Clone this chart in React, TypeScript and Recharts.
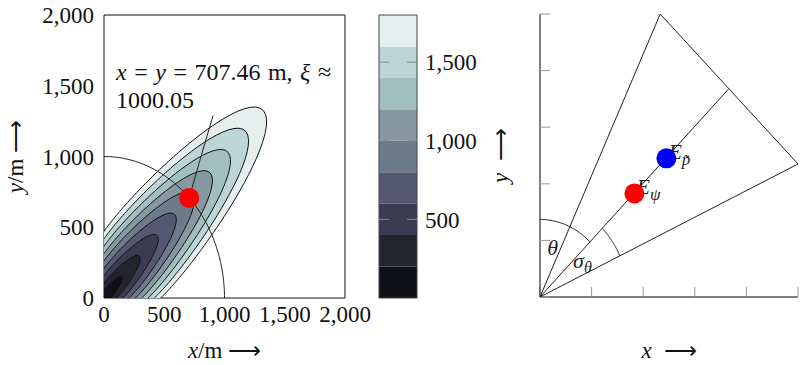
import React from 'react';
import { ScatterChart, Scatter, XAxis, YAxis, BarChart, Bar } from 'recharts';

const FONT = '"Liberation Serif", "Times New Roman", serif';

// left panel: contour levels of xi and the band colour below each level
const levels = [200, 400, 600, 800, 1000, 1200, 1400, 1600, 1800];
const bandColors = ['#101018', '#24242f', '#3b3b52', '#565773', '#6d7a8b', '#8898a2', '#a1bfbf', '#bcd5d5', '#e4efee'];
const axisTicks = [0, 500, 1000, 1500, 2000];
const barTicks = [500, 1000, 1500];
// contour shape: range along the bearing shrinks with the bearing offset
const bearing = 45;
const rangeScale = 1.04;
const bearingSpread = 24;
const circleRadius = 1000;
const marker = [{ x: 707.46, y: 707.46 }];
const ridge = [{ x: 707, y: 707 }, { x: 800, y: 985 }, { x: 905, y: 1290 }];
const note = [{ x: 100, y: 1540 }];

// right panel: wedge around the bearing estimate
const wedge = [{ x: 0, y: 0 }, { x: 2.33, y: 5 }, { x: 5, y: 2.35 }, { x: 0, y: 0 }];
const bisector = [{ x: 0, y: 0 }, { x: 3.65, y: 3.67 }];
const thetaArc = [1.37, 90, 45];
const sigmaArc = [1.71, 45, 25.2];
const estimates = [
  { x: 1.83, y: 1.83, color: '#ff0000', sub: 'ψ' },
  { x: 2.45, y: 2.45, color: '#0000ff', sub: 'p̃' },
];
const angleLabels = [
  { x: 0.14, y: 0.74, text: 'θ', sub: '' },
  { x: 0.64, y: 0.51, text: 'σ', sub: 'θ' },
];
const gridTicks = [0, 1, 2, 3, 4, 5];

const rad = (d: number) => (d * Math.PI) / 180;

const arcPoints = (r: number, from: number, to: number, n = 60) => {
  const pts = [];
  for (let i = 0; i <= n; i++) {
    const t = rad(from + ((to - from) * i) / n);
    pts.push({ x: r * Math.cos(t), y: r * Math.sin(t) });
  }
  return pts;
};

const contourPoints = (level: number) => {
  const pts = [];
  for (let deg = -135; deg <= 225; deg += 1) {
    const off = rad(deg - bearing);
    const r = (level * rangeScale) / Math.sqrt(1 + bearingSpread * off * off);
    pts.push({ x: r * Math.cos(rad(deg)), y: r * Math.sin(rad(deg)) });
  }
  return pts;
};

const contours = levels.map((L, i) => ({ level: L, color: bandColors[i], points: contourPoints(L) })).reverse();
const circle = arcPoints(circleRadius, 0, 90, 90);
const thetaPts = arcPoints(thetaArc[0], thetaArc[1], thetaArc[2], 40);
const sigmaPts = arcPoints(sigmaArc[0], sigmaArc[1], sigmaArc[2], 40);

const barRow: any = { name: 'xi' };
levels.forEach((L, i) => {
  barRow['b' + i] = L - (i > 0 ? levels[i - 1] : 0);
});
const barData = [barRow];

const blank = () => <g />;
const fmt = (v: number) => v.toLocaleString('en-US');
const tickStyle = { fill: '#111', fontSize: 23, fontFamily: FONT };
const ARROW = '⟶';

const NoteShape = (props: any) => (
  <text x={props.cx} y={props.cy} fontSize={24} fontFamily={FONT} fill="#111" wordSpacing={1.5}>
    <tspan fontStyle="italic">x</tspan> = <tspan fontStyle="italic">y</tspan> = 707.46 m, <tspan fontStyle="italic">ξ</tspan> ≈
    <tspan x={props.cx} dy={28}>1000.05</tspan>
  </text>
);

const MarkerShape = (props: any) => <circle cx={props.cx} cy={props.cy} r={10} fill="#ff0000" />;

const EstimateShape = (props: any) => (
  <g>
    <text x={props.cx + 2} y={props.cy + 1} fontSize={22} fontFamily={FONT} fill="#222" fontStyle="italic">
      E<tspan fontSize={17} dy={6}>{props.payload.sub}</tspan>
    </text>
    <circle cx={props.cx} cy={props.cy} r={10} fill={props.payload.color} />
  </g>
);

const AngleShape = (props: any) => (
  <text x={props.cx} y={props.cy} fontSize={22} fontFamily={FONT} fill="#222" fontStyle="italic">
    {props.payload.text}
    {props.payload.sub ? <tspan fontSize={16} dy={5}>{props.payload.sub}</tspan> : null}
  </text>
);

const LeftYLabel = (props: any) => {
  const vb = props.viewBox || {};
  const x = vb.x + 23;
  const y = vb.y + vb.height / 2;
  return (
    <text x={x} y={y} transform={`rotate(-90 ${x} ${y})`} textAnchor="middle" fontSize={23} fontFamily={FONT} fill="#111">
      <tspan fontStyle="italic">y</tspan>/m {ARROW}
    </text>
  );
};

const LeftXLabel = (props: any) => {
  const vb = props.viewBox || {};
  return (
    <text x={vb.x + vb.width / 2} y={vb.y + 60} textAnchor="middle" fontSize={23} fontFamily={FONT} fill="#111">
      <tspan fontStyle="italic">x</tspan>/m {ARROW}
    </text>
  );
};

const RightXLabel = (props: any) => {
  const vb = props.viewBox || {};
  return (
    <text x={vb.x + vb.width / 2} y={vb.y + 62} textAnchor="middle" fontSize={23} fontFamily={FONT} fill="#111">
      <tspan fontStyle="italic">x</tspan>
      <tspan dx={12}>{ARROW}</tspan>
    </text>
  );
};

const RightYLabel = (props: any) => {
  const vb = props.viewBox || {};
  const x = vb.x - 32;
  const y = vb.y + vb.height / 2;
  return (
    <text x={x} y={y} transform={`rotate(-90 ${x} ${y})`} textAnchor="middle" fontSize={23} fontFamily={FONT} fill="#111">
      <tspan fontStyle="italic">y</tspan>
      <tspan dx={12}>{ARROW}</tspan>
    </text>
  );
};

export default function App() {
  return (
    <div style={{ position: 'absolute', left: 0, top: 0, width: 800, height: 365, background: '#fff', fontFamily: FONT }}>
      <div style={{ position: 'absolute', left: 0, top: 0 }}>
        <ScatterChart width={380} height={365} margin={{ top: 14, right: 34, left: 0, bottom: 0 }}>
          {contours.map((c) => (
            <Scatter
              key={c.level}
              data={c.points}
              line={{ stroke: '#111', strokeWidth: 1, fill: c.color }}
              lineJointType="linear"
              shape={blank}
              isAnimationActive={false}
            />
          ))}
          <Scatter data={circle} line={{ stroke: '#222', strokeWidth: 1, fill: 'none' }} lineJointType="linear" shape={blank} isAnimationActive={false} />
          <Scatter data={ridge} line={{ stroke: '#222', strokeWidth: 1, fill: 'none' }} lineJointType="linear" shape={blank} isAnimationActive={false} />
          <Scatter data={marker} shape={MarkerShape} isAnimationActive={false} />
          <Scatter data={note} shape={NoteShape} isAnimationActive={false} />
          <XAxis
            type="number"
            dataKey="x"
            domain={[0, 2000]}
            ticks={axisTicks}
            interval={0}
            allowDataOverflow
            height={67}
            tickSize={0}
            tickMargin={8}
            tickFormatter={fmt}
            tick={tickStyle}
            axisLine={{ stroke: '#111' }}
            label={LeftXLabel}
          />
          <YAxis
            type="number"
            dataKey="y"
            domain={[0, 2000]}
            ticks={axisTicks}
            interval={0}
            allowDataOverflow
            width={104}
            tickSize={0}
            tickMargin={10}
            tickFormatter={fmt}
            tick={tickStyle}
            axisLine={{ stroke: '#111' }}
            label={LeftYLabel}
          />
          <XAxis xAxisId="top" orientation="top" type="number" domain={[0, 2000]} allowDataOverflow ticks={axisTicks} height={1} tick={false} tickLine={false} axisLine={{ stroke: '#111' }} />
          <YAxis yAxisId="right" orientation="right" type="number" domain={[0, 2000]} allowDataOverflow ticks={axisTicks} width={1} tick={false} tickLine={false} axisLine={{ stroke: '#111' }} />
        </ScatterChart>
      </div>

      <div style={{ position: 'absolute', left: 370, top: 0 }}>
        <BarChart width={110} height={365} data={barData} margin={{ top: 14, right: 0, left: 9, bottom: 0 }} barCategoryGap={0}>
          {levels.map((L, i) => (
            <Bar key={L} dataKey={'b' + i} stackId="a" fill={bandColors[i]} isAnimationActive={false} />
          ))}
          <XAxis dataKey="name" height={67} tick={false} tickLine={false} axisLine={{ stroke: '#444' }} />
          <XAxis xAxisId="top" dataKey="name" orientation="top" height={1} tick={false} tickLine={false} axisLine={{ stroke: '#444' }} />
          <YAxis
            type="number"
            domain={[0, 1800]}
            allowDataOverflow
            ticks={barTicks}
            mirror
            width={1}
            tick={blank}
            tickSize={10}
            tickLine={{ stroke: '#888' }}
            axisLine={{ stroke: '#444' }}
          />
          <YAxis
            yAxisId="r1"
            orientation="right"
            type="number"
            domain={[0, 1800]}
            allowDataOverflow
            ticks={barTicks}
            mirror
            width={1}
            tick={blank}
            tickSize={10}
            tickLine={{ stroke: '#888' }}
            axisLine={{ stroke: '#444' }}
          />
          <YAxis
            yAxisId="r2"
            orientation="right"
            type="number"
            domain={[0, 1800]}
            allowDataOverflow
            ticks={barTicks}
            width={63}
            tickSize={0}
            tickMargin={8}
            tickLine={false}
            axisLine={false}
            tickFormatter={fmt}
            tick={tickStyle}
          />
        </BarChart>
      </div>

      <div style={{ position: 'absolute', left: 480, top: 0 }}>
        <ScatterChart width={320} height={365} margin={{ top: 14, right: 2, left: 60, bottom: 68 }}>
          <Scatter data={wedge} line={{ stroke: '#222', strokeWidth: 1, fill: 'none' }} lineJointType="linear" shape={blank} isAnimationActive={false} />
          <Scatter data={bisector} line={{ stroke: '#222', strokeWidth: 1, fill: 'none' }} lineJointType="linear" shape={blank} isAnimationActive={false} />
          <Scatter data={thetaPts} line={{ stroke: '#222', strokeWidth: 1, fill: 'none' }} lineJointType="linear" shape={blank} isAnimationActive={false} />
          <Scatter data={sigmaPts} line={{ stroke: '#222', strokeWidth: 1, fill: 'none' }} lineJointType="linear" shape={blank} isAnimationActive={false} />
          <Scatter data={angleLabels} shape={AngleShape} isAnimationActive={false} />
          <Scatter data={estimates} shape={EstimateShape} isAnimationActive={false} />
          <XAxis
            type="number"
            dataKey="x"
            domain={[0, 5]}
            allowDataOverflow
            ticks={gridTicks}
            interval={0}
            mirror
            height={1}
            tick={blank}
            tickSize={10}
            tickLine={{ stroke: '#999' }}
            axisLine={{ stroke: '#555', strokeWidth: 1.5 }}
            label={RightXLabel}
          />
          <YAxis
            type="number"
            dataKey="y"
            domain={[0, 5]}
            allowDataOverflow
            ticks={gridTicks}
            interval={0}
            mirror
            width={1}
            tick={blank}
            tickSize={10}
            tickLine={{ stroke: '#999' }}
            axisLine={{ stroke: '#555', strokeWidth: 1.5 }}
            label={RightYLabel}
          />
        </ScatterChart>
      </div>
    </div>
  );
}
